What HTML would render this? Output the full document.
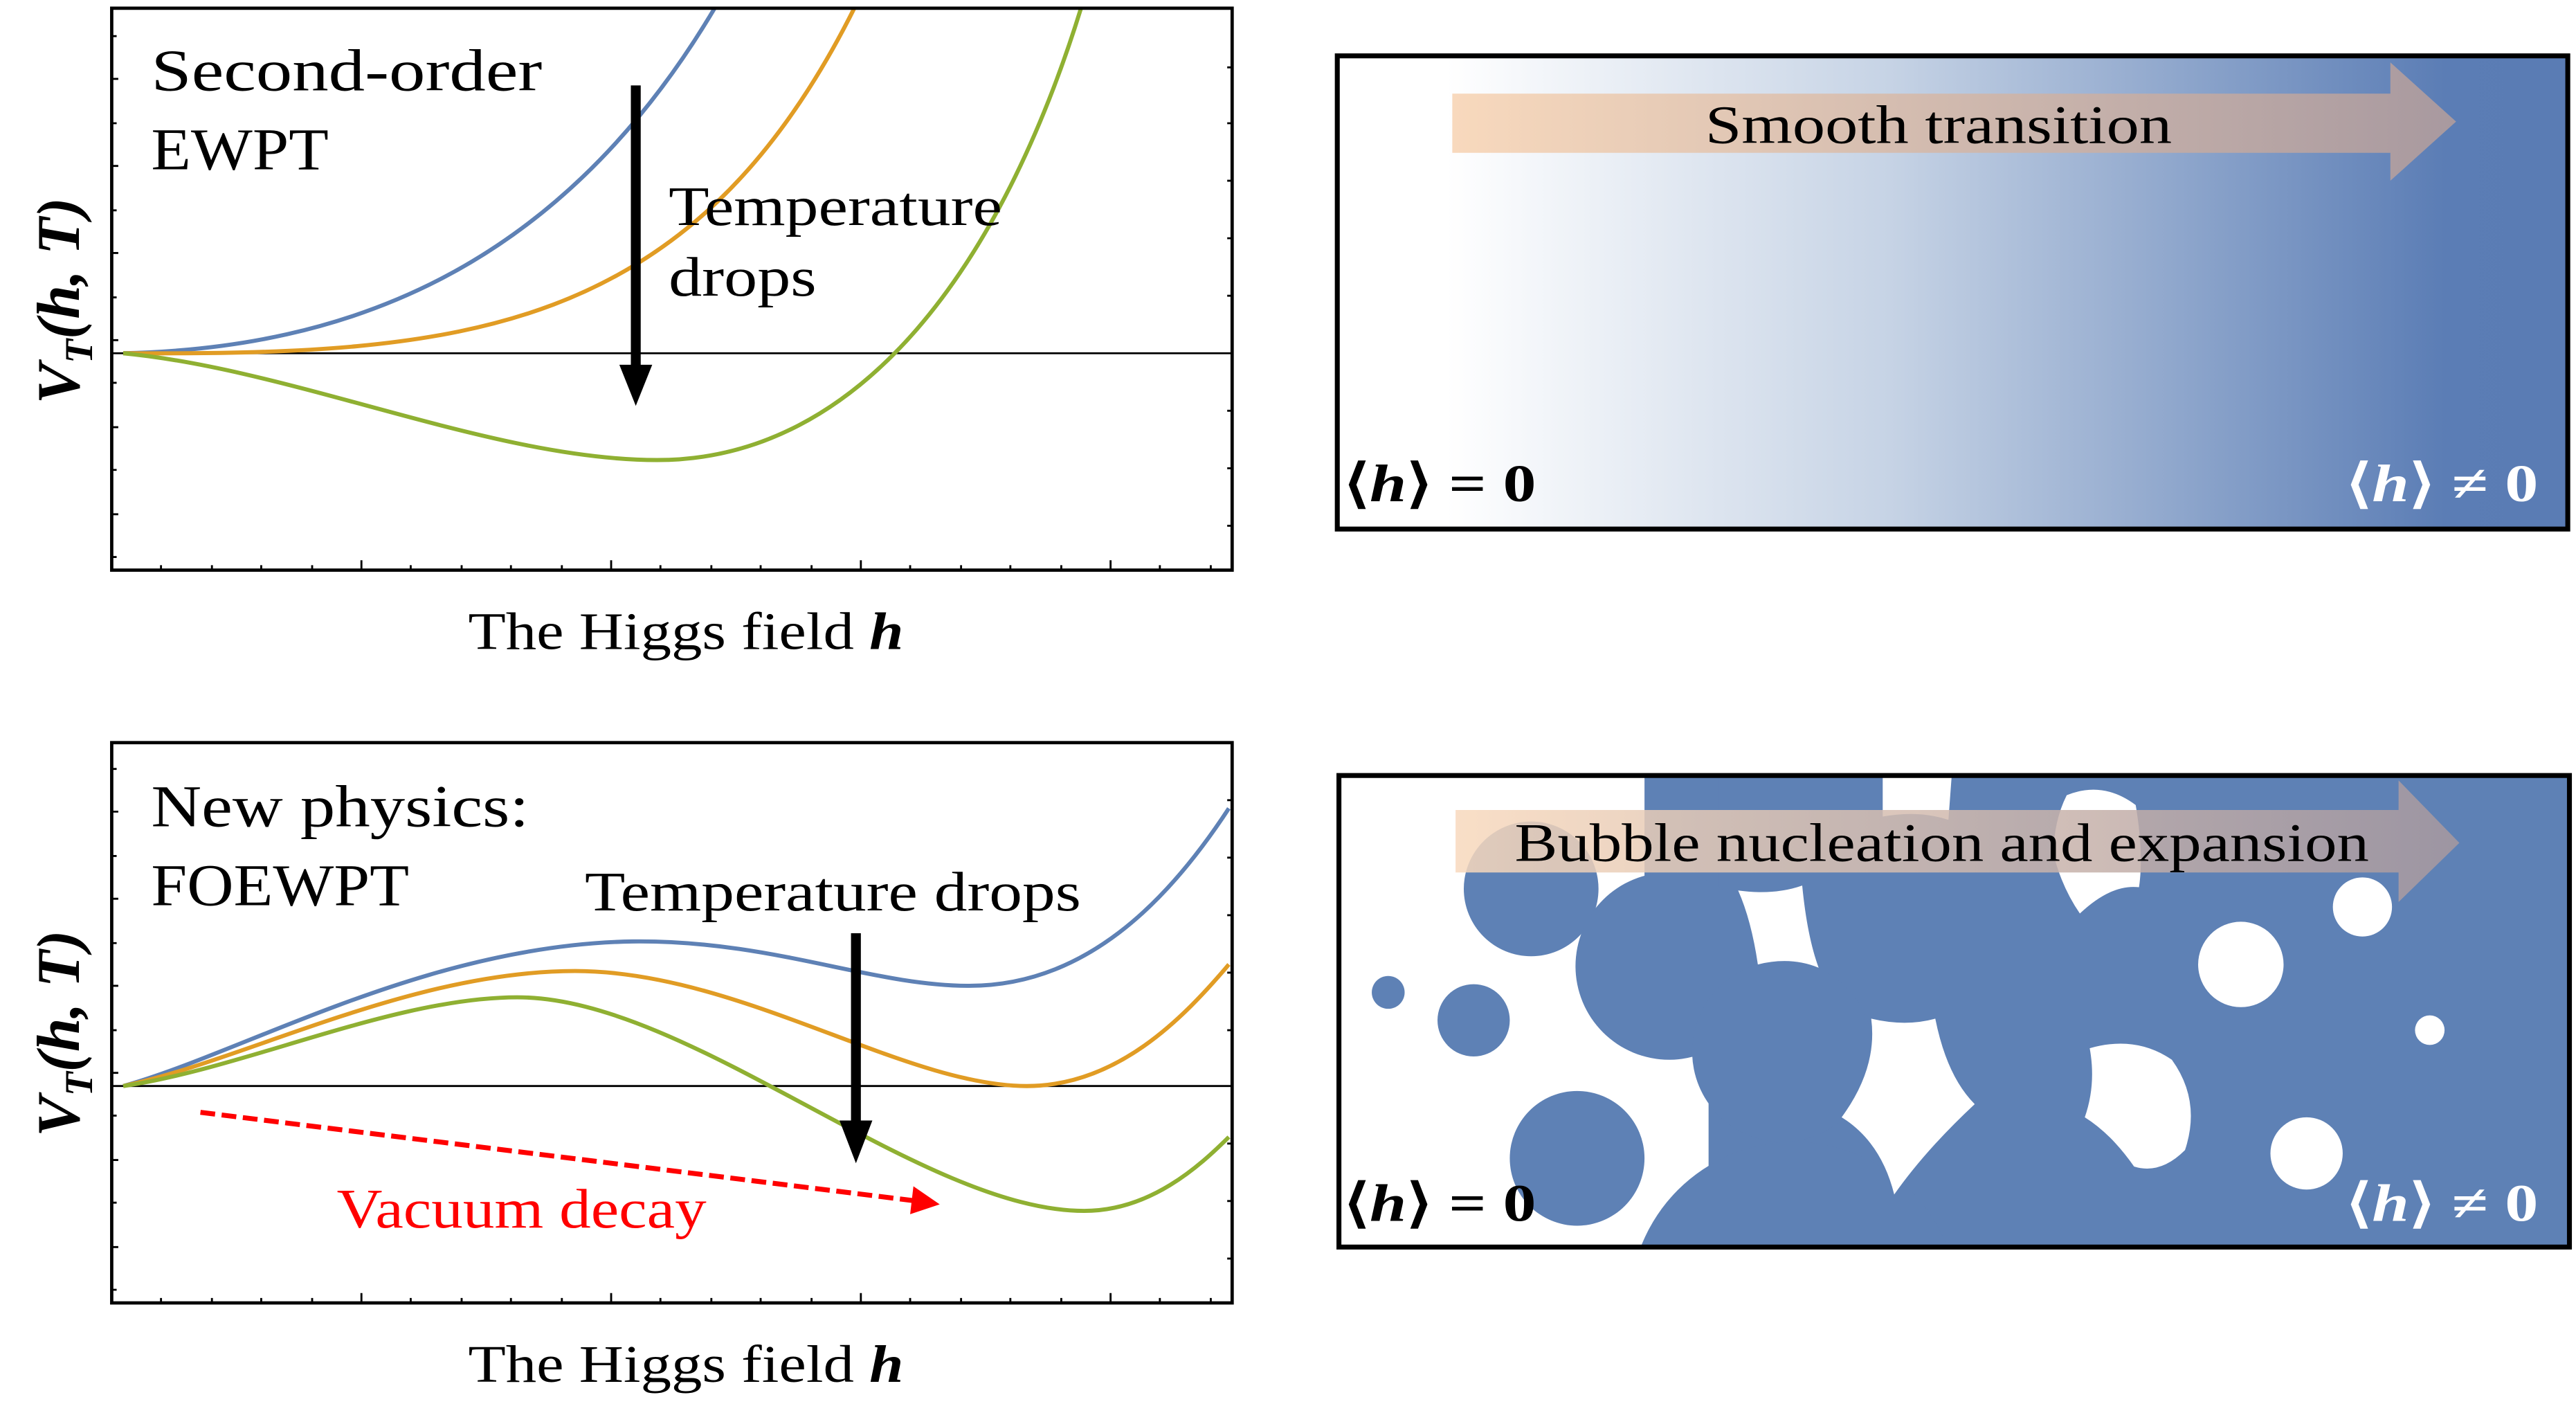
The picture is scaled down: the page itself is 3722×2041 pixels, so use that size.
<!DOCTYPE html>
<html><head><meta charset="utf-8"><style>html,body{margin:0;padding:0;background:#fff}svg{display:block}</style></head>
<body>
<svg width="3722" height="2041" viewBox="0 0 1568 860" preserveAspectRatio="none" xmlns="http://www.w3.org/2000/svg" font-family="'Liberation Serif', serif">
<defs>
<linearGradient id="bg" x1="813" x2="1563" y1="0" y2="0" gradientUnits="userSpaceOnUse">
<stop offset="0.09" stop-color="#ffffff"/><stop offset="0.45" stop-color="#c6d3e5"/><stop offset="0.9" stop-color="#5b7db5"/><stop offset="1" stop-color="#5a7cb4"/></linearGradient>
<linearGradient id="ar" x1="884" x2="1495" y1="0" y2="0" gradientUnits="userSpaceOnUse">
<stop offset="0" stop-color="#f8d9bd"/><stop offset="1" stop-color="#a8999f"/></linearGradient>
<clipPath id="cb"><rect x="816" y="473" width="748" height="286"/></clipPath>
</defs>

<!-- Top-left plot -->
<g>
<line x1="68" y1="215" x2="750" y2="215" stroke="#000" stroke-width="1.2"/>
<path d="M75,215 C210,212 340,165 435,5" fill="none" stroke="#5e81b5" stroke-width="2.5"/>
<path d="M75,215 C280,216 420,205 520,5" fill="none" stroke="#e19c24" stroke-width="2.5"/>
<path d="M75,215 C180,225 300,280 400,280 C525,280 610,160 658,5" fill="none" stroke="#8fb032" stroke-width="2.5"/>
<rect x="68" y="5" width="682" height="342" fill="none" stroke="#000" stroke-width="2"/>
<g stroke="#000" stroke-width="1.2">
<path d="M98,347v-3M129,347v-3M159,347v-3M190,347v-3M220,347v-6M250,347v-3M281,347v-3M311,347v-3M342,347v-3M372,347v-6M402,347v-3M433,347v-3M463,347v-3M494,347v-3M524,347v-6M554,347v-3M585,347v-3M615,347v-3M646,347v-3M676,347v-6M706,347v-3M737,347v-3"/>
<path d="M68,22h3M68,48h4M68,75h3M68,101h4M68,128h3M68,154h4M68,181h3M68,207h4M68,233h3M68,260h4M68,286h3M68,313h4M68,339h3"/>
<path d="M750,41h-3M750,75h-3M750,110h-3M750,145h-3M750,180h-3M750,250h-3M750,285h-3M750,320h-3"/>
</g>
<text x="92" y="55" font-size="36" textLength="238" lengthAdjust="spacingAndGlyphs">Second-order</text>
<text x="92" y="103" font-size="36" textLength="108" lengthAdjust="spacingAndGlyphs">EWPT</text>
<line x1="387" y1="52" x2="387" y2="228" stroke="#000" stroke-width="6"/>
<path d="M377,222 L397,222 L387,247z" fill="#000"/>
<text x="407" y="137" font-size="34" textLength="203" lengthAdjust="spacingAndGlyphs">Temperature</text>
<text x="407" y="180" font-size="34" textLength="90" lengthAdjust="spacingAndGlyphs">drops</text>
<text transform="translate(48,183) rotate(-90)" text-anchor="middle" font-size="37" font-weight="bold" font-style="italic">V<tspan font-size="24" dy="8">T</tspan><tspan dy="-8">(h, T)</tspan></text>
<text x="285" y="395" font-size="32" textLength="265" lengthAdjust="spacingAndGlyphs">The Higgs field <tspan font-weight="bold" font-style="italic">h</tspan></text>
</g>

<!-- Bottom-left plot -->
<g>
<line x1="68" y1="661" x2="750" y2="661" stroke="#000" stroke-width="1.2"/>
<path d="M75,661 C150,640 260,575 385,573 C470,572 530,600 590,600 C660,600 710,550 748,492" fill="none" stroke="#5e81b5" stroke-width="2.5"/>
<path d="M75,661 C150,645 250,591 350,591 C450,591 550,661 625,661 C680,661 720,620 748,587" fill="none" stroke="#e19c24" stroke-width="2.5"/>
<path d="M75,661 C150,650 240,607 315,607 C420,607 560,737 660,737 C700,737 730,710 748,692" fill="none" stroke="#8fb032" stroke-width="2.5"/>
<rect x="68" y="452" width="682" height="341" fill="none" stroke="#000" stroke-width="2"/>
<g stroke="#000" stroke-width="1.2">
<path d="M98,793v-3M129,793v-3M159,793v-3M190,793v-3M220,793v-6M250,793v-3M281,793v-3M311,793v-3M342,793v-3M372,793v-6M402,793v-3M433,793v-3M463,793v-3M494,793v-3M524,793v-6M554,793v-3M585,793v-3M615,793v-3M646,793v-3M676,793v-6M706,793v-3M737,793v-3"/>
<path d="M68,468h3M68,494h4M68,521h3M68,547h4M68,574h3M68,600h4M68,627h3M68,653h4M68,679h3M68,706h4M68,732h3M68,759h4M68,785h3"/>
<path d="M750,487h-3M750,522h-3M750,557h-3M750,592h-3M750,627h-3M750,696h-3M750,731h-3M750,766h-3"/>
</g>
<text x="92" y="503" font-size="36" textLength="230" lengthAdjust="spacingAndGlyphs">New physics:</text>
<text x="92" y="551" font-size="36" textLength="157" lengthAdjust="spacingAndGlyphs">FOEWPT</text>
<text x="356" y="554" font-size="34" textLength="302" lengthAdjust="spacingAndGlyphs">Temperature drops</text>
<line x1="521" y1="568" x2="521" y2="688" stroke="#000" stroke-width="6"/>
<path d="M511,682 L531,682 L521,708z" fill="#000"/>
<line x1="122" y1="677" x2="558" y2="731" stroke="#f00" stroke-width="3" stroke-dasharray="9,4"/>
<path d="M556,722 L572,733 L554,739z" fill="#f00"/>
<text x="205" y="747" font-size="34" fill="#f00" textLength="225" lengthAdjust="spacingAndGlyphs">Vacuum decay</text>
<text transform="translate(48,629) rotate(-90)" text-anchor="middle" font-size="37" font-weight="bold" font-style="italic">V<tspan font-size="24" dy="8">T</tspan><tspan dy="-8">(h, T)</tspan></text>
<text x="285" y="841" font-size="32" textLength="265" lengthAdjust="spacingAndGlyphs">The Higgs field <tspan font-weight="bold" font-style="italic">h</tspan></text>
</g>

<!-- Top-right panel -->
<g>
<rect x="814" y="34" width="749" height="288" fill="url(#bg)" stroke="#000" stroke-width="3"/>
<path d="M884,57 L1455,57 L1455,38 L1495,74 L1455,110 L1455,93 L884,93z" fill="url(#ar)"/>
<text x="1180" y="87" text-anchor="middle" font-size="33" textLength="284" lengthAdjust="spacingAndGlyphs">Smooth transition</text>
<text x="818" y="305" font-size="32" font-weight="bold" textLength="117" lengthAdjust="spacingAndGlyphs">⟨<tspan font-style="italic">h</tspan>⟩ = 0</text>
<text x="1428" y="305" font-size="32" font-weight="bold" fill="#fff" textLength="117" lengthAdjust="spacingAndGlyphs">⟨<tspan font-style="italic">h</tspan>⟩ ≠ 0</text>
</g>

<!-- Bottom-right panel -->
<g>
<rect x="816" y="472" width="748" height="287" fill="#fff"/>
<g clip-path="url(#cb)" fill="#5e81b5">
<rect x="1040" y="470" width="530" height="295"/>
<rect x="1001" y="470" width="45" height="75"/>
<circle cx="932" cy="541" r="41"/>
<circle cx="1016" cy="588" r="57"/>
<circle cx="1085" cy="640" r="55"/>
<circle cx="845" cy="604" r="10"/>
<circle cx="897" cy="621" r="22"/>
<circle cx="960" cy="705" r="41"/>
<circle cx="1092" cy="795" r="100"/>
</g>
<g fill="#fff">
<path d="M1146,472 L1188,472 L1186,499 Q1168,493 1146,497z"/>
<path d="M1058,542 Q1080,545 1097,539 Q1100,570 1107,589 Q1090,582 1070,587 Q1066,560 1058,542z"/>
<path d="M1258,484 Q1280,475 1300,490 Q1305,520 1302,540 Q1285,538 1266,556 Q1255,540 1250,520 Q1250,500 1258,484z"/>
<circle cx="1364" cy="587" r="26"/>
<circle cx="1438" cy="552" r="18"/>
<circle cx="1479" cy="627" r="9"/>
<circle cx="1404" cy="702" r="22"/>
<path d="M1272,638 Q1300,630 1322,645 Q1340,670 1330,700 Q1315,715 1299,710 Q1285,690 1269,680 Q1276,660 1272,638z"/>
<path d="M1139,620 Q1160,625 1178,620 Q1185,655 1202,672 Q1172,700 1153,727 Q1145,695 1121,680 Q1143,650 1139,620z"/>
</g>
<path d="M886,493 L1460,493 L1460,475 L1497,513 L1460,549 L1460,531 L886,531z" fill="url(#ar)" opacity="0.85"/>
<rect x="815" y="472" width="749" height="287" fill="none" stroke="#000" stroke-width="3"/>
<text x="1182" y="524" text-anchor="middle" font-size="33" textLength="520" lengthAdjust="spacingAndGlyphs">Bubble nucleation and expansion</text>
<text x="818" y="743" font-size="32" font-weight="bold" textLength="117" lengthAdjust="spacingAndGlyphs">⟨<tspan font-style="italic">h</tspan>⟩ = 0</text>
<text x="1428" y="743" font-size="32" font-weight="bold" fill="#fff" textLength="117" lengthAdjust="spacingAndGlyphs">⟨<tspan font-style="italic">h</tspan>⟩ ≠ 0</text>
</g>
</svg>
</body></html>
